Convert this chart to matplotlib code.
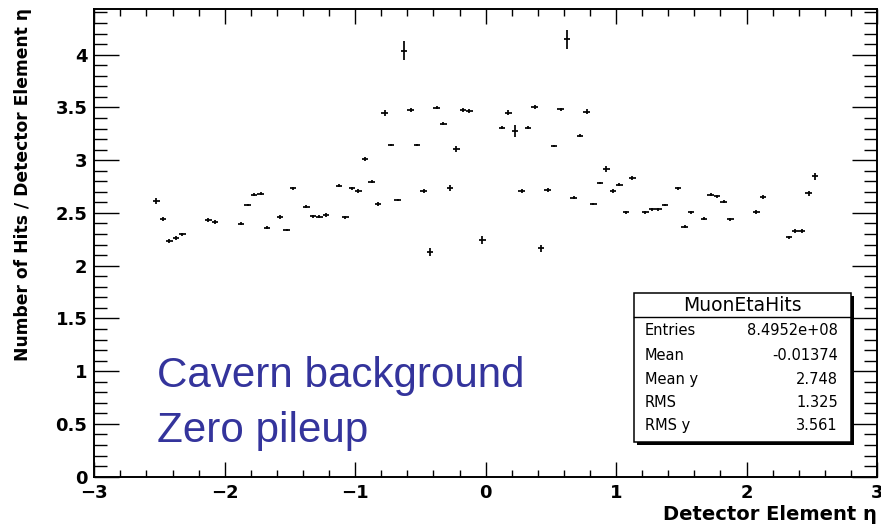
import matplotlib
matplotlib.use("Agg")
import matplotlib.pyplot as plt
from matplotlib.patches import Rectangle
from matplotlib.lines import Line2D
from matplotlib.ticker import MultipleLocator

# bin centres in eta (bins are 0.05 wide) and mean hits per detector element
eta = [-2.525, -2.475, -2.425, -2.375, -2.325, -2.125, -2.075, -1.875, -1.825, -1.775,
       -1.725, -1.675, -1.575, -1.525, -1.475, -1.375, -1.325, -1.275, -1.225, -1.125,
       -1.075, -1.025, -0.975, -0.925, -0.875, -0.825, -0.775, -0.725, -0.675, -0.625,
       -0.575, -0.525, -0.475, -0.425, -0.375, -0.325, -0.275, -0.225, -0.175, -0.125,
       -0.025, 0.125, 0.175, 0.225, 0.275, 0.325, 0.375, 0.425, 0.475, 0.525,
       0.575, 0.625, 0.675, 0.725, 0.775, 0.825, 0.875, 0.925, 0.975, 1.025,
       1.075, 1.125, 1.225, 1.275, 1.325, 1.375, 1.475, 1.525, 1.575, 1.675,
       1.725, 1.775, 1.825, 1.875, 2.075, 2.125, 2.325, 2.375, 2.425, 2.475, 2.525]
hits = [2.613, 2.443, 2.234, 2.260, 2.298, 2.433, 2.411, 2.398, 2.573, 2.673,
        2.682, 2.360, 2.459, 2.338, 2.734, 2.559, 2.468, 2.464, 2.481, 2.758,
        2.459, 2.734, 2.708, 3.011, 2.796, 2.585, 3.447, 3.144, 2.623, 4.038,
        3.476, 3.144, 2.705, 2.130, 3.498, 3.346, 2.734, 3.109, 3.476, 3.466,
        2.244, 3.308, 3.450, 3.277, 2.708, 3.308, 3.501, 2.165, 2.720, 3.135,
        3.482, 4.146, 2.645, 3.232, 3.460, 2.585, 2.784, 2.917, 2.708, 2.768,
        2.506, 2.831, 2.506, 2.535, 2.535, 2.573, 2.734, 2.370, 2.506, 2.445,
        2.673, 2.658, 2.607, 2.440, 2.506, 2.648, 2.269, 2.332, 2.332, 2.686, 2.847]
hits_err = [0.030, 0.015, 0.015, 0.020, 0.015, 0.015, 0.020, 0.012, 0.012, 0.015,
            0.015, 0.012, 0.020, 0.012, 0.012, 0.012, 0.015, 0.012, 0.015, 0.012,
            0.015, 0.012, 0.015, 0.020, 0.012, 0.015, 0.030, 0.012, 0.012, 0.090,
            0.020, 0.012, 0.020, 0.035, 0.015, 0.015, 0.030, 0.030, 0.015, 0.015,
            0.035, 0.012, 0.025, 0.055, 0.020, 0.015, 0.020, 0.035, 0.020, 0.012,
            0.015, 0.090, 0.012, 0.015, 0.025, 0.012, 0.012, 0.025, 0.015, 0.012,
            0.015, 0.015, 0.012, 0.012, 0.012, 0.012, 0.012, 0.012, 0.015, 0.012,
            0.015, 0.012, 0.015, 0.012, 0.020, 0.020, 0.015, 0.020, 0.020, 0.025, 0.035]
bin_half = 0.025

stat_title = "MuonEtaHits"
stat_labels = ["Entries", "Mean", "Mean y", "RMS", "RMS y"]
stat_values = ["8.4952e+08", "-0.01374", "2.748", "1.325", "3.561"]

W, H = 881, 529
fx = lambda px: px / W
fy = lambda py: 1 - py / H

fig = plt.figure(figsize=(8.81, 5.29), dpi=100)
ax = fig.add_axes([fx(94.3), fy(476.7), fx(877) - fx(94.3), fy(9.3) - fy(476.7)])

ax.errorbar(eta, hits, yerr=hits_err, xerr=bin_half, fmt='none',
            ecolor='black', elinewidth=1.25, capsize=0)

ax.set_xlim(-3, 3)
ax.set_ylim(0, 4.43)
ax.xaxis.set_major_locator(MultipleLocator(1))
ax.xaxis.set_minor_locator(MultipleLocator(0.2))
ax.yaxis.set_major_locator(MultipleLocator(0.5))
ax.yaxis.set_minor_locator(MultipleLocator(0.1))
ax.yaxis.set_major_formatter(plt.FuncFormatter(lambda v, p: f"{v:g}"))

for s in ax.spines.values():
    s.set_linewidth(1.4)
ax.tick_params(axis='x', which='both', direction='in', top=True, width=1.0, pad=5)
ax.tick_params(axis='x', which='major', length=10.5)
ax.tick_params(axis='x', which='minor', length=5)
ax.tick_params(axis='y', which='both', direction='in', right=True, width=1.0, pad=5)
ax.tick_params(axis='y', which='major', length=18)
ax.tick_params(axis='y', which='minor', length=9.5)
for lab in ax.get_xticklabels() + ax.get_yticklabels():
    lab.set_fontfamily('DejaVu Sans')
    lab.set_fontweight('bold')
    lab.set_fontsize(13)

# axis titles (ROOT style: at the ends of the axes)
fig.text(fx(877), fy(514), "Detector Element η", ha='right', va='center',
         fontsize=14, fontweight='bold', family='DejaVu Sans')
fig.text(fx(23), fy(8), "Number of Hits / Detector Element η", rotation=90,
         ha='center', va='top', fontsize=12.3, fontweight='bold', family='DejaVu Sans')

# annotation
blue = '#34349c'
fig.text(fx(157), fy(387), "Cavern background", ha='left', va='baseline',
         fontsize=30.3, color=blue, family='Liberation Sans')
fig.text(fx(157), fy(441.7), "Zero pileup", ha='left', va='baseline',
         fontsize=30.3, color=blue, family='Liberation Sans')

# stats box
x0, x1, y0, y1 = 634, 851, 293.3, 441.7
fig.add_artist(Rectangle((fx(x0 + 3), fy(y1 + 3)), fx(x1) - fx(x0), fy(y0) - fy(y1),
                         transform=fig.transFigure, facecolor='black', edgecolor='none', zorder=5))
fig.add_artist(Rectangle((fx(x0), fy(y1)), fx(x1) - fx(x0), fy(y0) - fy(y1),
                         transform=fig.transFigure, facecolor='white', edgecolor='black',
                         linewidth=1.1, zorder=6))
fig.add_artist(Line2D([fx(x0), fx(x1)], [fy(317), fy(317)], transform=fig.transFigure,
                      color='black', linewidth=1.0, zorder=7))
fig.text(fx((x0 + x1) / 2), fy(305.5), stat_title, ha='center', va='center',
         fontsize=13.5, family='DejaVu Sans', zorder=8)
row_y = [330.7, 355.5, 379.3, 402.7, 425.5]
for lab, val, ry in zip(stat_labels, stat_values, row_y):
    fig.text(fx(645), fy(ry), lab, ha='left', va='center', fontsize=10.5,
             family='DejaVu Sans', zorder=8)
    fig.text(fx(838), fy(ry), val, ha='right', va='center', fontsize=10.5,
             family='DejaVu Sans', zorder=8)

fig.savefig("out.png", dpi=100)
